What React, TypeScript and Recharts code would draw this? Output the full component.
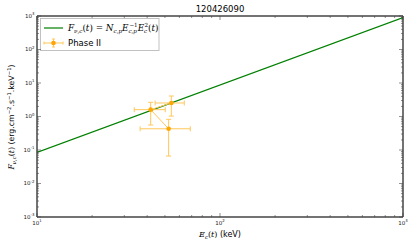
import React from 'react';
import { ComposedChart, XAxis, YAxis, Line, Scatter, ErrorBar, Customized } from 'recharts';

const TITLE = '120426090';
const SERIES_NAME = 'Phase II';

// model line (power law, read at plot edges)
const modelEnergy = [10, 1000];
const modelFlux = [0.085, 900];

// Phase II points
const phaseEnergy = [54.2, 41.8, 52.4];
const phaseEnergyLow = [44.2, 34.0, 36.6];
const phaseEnergyHigh = [63.8, 50.2, 68.8];
const phaseFlux = [2.53, 1.6, 0.43];
const phaseFluxLow = [1.03, 0.557, 0.066];
const phaseFluxHigh = [4.09, 2.65, 0.825];

const xMajorTicks = [10, 100, 1000];
const yMajorTicks = [1e-3, 1e-2, 1e-1, 1, 10, 100, 1000];

const withMinors = (majors: number[]) => {
  const out: number[] = [];
  majors.forEach((m, i) => {
    out.push(m);
    if (i < majors.length - 1) for (let k = 2; k <= 9; k++) out.push(m * k);
  });
  return out;
};
const xTicks = withMinors(xMajorTicks);
const yTicks = withMinors(yMajorTicks);

const modelData = modelEnergy.map((x, i) => ({ x, y: modelFlux[i] }));
const phaseData = phaseEnergy.map((x, i) => ({
  x,
  y: phaseFlux[i],
  xErr: [x - phaseEnergyLow[i], phaseEnergyHigh[i] - x],
  yErr: [phaseFlux[i] - phaseFluxLow[i], phaseFluxHigh[i] - phaseFlux[i]],
}));

const GREEN = '#008000';
const ORANGE = '#FFA500';
const ORANGE_LIGHT = '#FFC75A';
const AXIS = '#444';
const SANS = 'DejaVu Sans';
const SERIF = 'DejaVu Serif';

const isMajor = (v: number) => Math.abs(Math.log10(v) - Math.round(Math.log10(v))) < 1e-9;

const TickMark = (props: any) => {
  const { x, y, payload, side } = props;
  const v = payload.value;
  const major = isMajor(v);
  const len = major ? 4 : 2;
  const exp = Math.round(Math.log10(v));
  const lbl = (tx: number, ty: number, anchor: string) => (
    <text x={tx} y={ty} textAnchor={anchor} fontSize={5.5} fill="#222" fontFamily={SANS}>
      10<tspan dy={-2.6} fontSize={3.9}>{exp}</tspan>
    </text>
  );
  if (side === 'bottom')
    return (
      <g>
        <line x1={x} x2={x} y1={y} y2={y - len} stroke={AXIS} strokeWidth={0.6} />
        {major && lbl(x, y + 8, 'middle')}
      </g>
    );
  if (side === 'top')
    return <line x1={x} x2={x} y1={y} y2={y + len} stroke={AXIS} strokeWidth={0.6} />;
  if (side === 'left')
    return (
      <g>
        <line x1={x} x2={x + len} y1={y} y2={y} stroke={AXIS} strokeWidth={0.6} />
        {major && lbl(x - 2.5, y + 1.8, 'end')}
      </g>
    );
  return <line x1={x} x2={x - len} y1={y} y2={y} stroke={AXIS} strokeWidth={0.6} />;
};

const Decor = () => (
  <g>
    <text x={220} y={12} textAnchor="middle" fontSize={8.5} fontFamily={SANS} fill="#000">
      {TITLE}
    </text>
    {/* x label */}
    <text x={220} y={237} textAnchor="middle" fontSize={8} fontFamily={SANS} fill="#000">
      <tspan fontFamily={SERIF} fontStyle="italic">E</tspan>
      <tspan dy={1.8} fontSize={5.5} fontFamily={SERIF} fontStyle="italic">c</tspan>
      <tspan dy={-1.8} fontFamily={SERIF}>(</tspan>
      <tspan fontFamily={SERIF} fontStyle="italic">t</tspan>
      <tspan fontFamily={SERIF}>)</tspan>
      <tspan> (keV)</tspan>
    </text>
    {/* y label */}
    <text
      x={14}
      y={117}
      transform="rotate(-90, 14, 117)"
      textAnchor="middle"
      fontSize={7.8}
      fontFamily={SANS}
      fill="#000"
    >
      <tspan fontFamily={SERIF} fontStyle="italic">F</tspan>
      <tspan dy={1.8} fontSize={5.3} fontFamily={SERIF} fontStyle="italic">ν,c</tspan>
      <tspan dy={-1.8} fontFamily={SERIF}>(</tspan>
      <tspan fontFamily={SERIF} fontStyle="italic">t</tspan>
      <tspan fontFamily={SERIF}>)</tspan>
      <tspan> (erg.cm</tspan>
      <tspan dy={-3} fontSize={5.3}>−2</tspan>
      <tspan dy={3}>.s</tspan>
      <tspan dy={-3} fontSize={5.3}>−1</tspan>
      <tspan dy={3}>.keV</tspan>
      <tspan dy={-3} fontSize={5.3}>−1</tspan>
      <tspan dy={3}>)</tspan>
    </text>
    {/* legend */}
    <rect x={40.5} y={18.5} width={118.5} height={32} fill="#fff" stroke="#bbb" strokeWidth={0.9} />
    <line x1={44} x2={63} y1={28} y2={28} stroke={GREEN} strokeWidth={1.2} />
    <text x={68} y={31} fontSize={8.8} fontFamily={SERIF} fontStyle="italic" fill="#000">
      <tspan>F</tspan>
      <tspan dy={1.9} fontSize={5.6}>ν,c</tspan>
      <tspan dy={-1.9} fontStyle="normal">(</tspan>
      <tspan>t</tspan>
      <tspan fontStyle="normal">) = </tspan>
      <tspan>N</tspan>
      <tspan dy={1.9} fontSize={5.6}>c,p</tspan>
      <tspan dy={-1.9}>E</tspan>
      <tspan dy={1.9} fontSize={5.6}>c,p</tspan>
      <tspan dx={-7.5} dy={-5.6} fontSize={5.6} fontStyle="normal">−1</tspan>
      <tspan dy={3.7}>E</tspan>
      <tspan dy={1.9} fontSize={5.6}>c</tspan>
      <tspan dx={-2.8} dy={-5.6} fontSize={5.6} fontStyle="normal">2</tspan>
      <tspan dy={3.7} fontStyle="normal">(</tspan>
      <tspan>t</tspan>
      <tspan fontStyle="normal">)</tspan>
    </text>
    <line x1={44} x2={63} y1={43} y2={43} stroke={ORANGE_LIGHT} strokeWidth={1} />
    <line x1={53.5} x2={53.5} y1={39} y2={47} stroke={ORANGE_LIGHT} strokeWidth={1} />
    <line x1={44} x2={44} y1={41.5} y2={44.5} stroke={ORANGE_LIGHT} strokeWidth={1} />
    <line x1={63} x2={63} y1={41.5} y2={44.5} stroke={ORANGE_LIGHT} strokeWidth={1} />
    <line x1={52} x2={55} y1={39} y2={39} stroke={ORANGE_LIGHT} strokeWidth={1} />
    <line x1={52} x2={55} y1={47} y2={47} stroke={ORANGE_LIGHT} strokeWidth={1} />
    <circle cx={53.5} cy={43} r={2.3} fill={ORANGE} />
    <text x={68} y={46} fontSize={8.5} fontFamily={SANS} fill="#000">
      {SERIES_NAME}
    </text>
  </g>
);

export default function App() {
  const axisLine = { stroke: AXIS, strokeWidth: 1.5 };
  return (
    <div style={{ position: 'absolute', left: 0, top: 0, background: '#fff' }}>
      <ComposedChart width={415} height={249} margin={{ top: 15, right: 11, bottom: 0, left: 0 }}>
        <XAxis
          xAxisId="b"
          orientation="bottom"
          dataKey="x"
          type="number"
          scale="log"
          domain={[10, 1000]}
          allowDataOverflow
          ticks={xTicks}
          interval={0}
          tickSize={0}
          tickMargin={0}
          tickLine={false}
          axisLine={axisLine}
          height={32}
          tick={(p: any) => <TickMark {...p} side="bottom" />}
        />
        <XAxis
          xAxisId="t"
          orientation="top"
          dataKey="x"
          type="number"
          scale="log"
          domain={[10, 1000]}
          allowDataOverflow
          ticks={xTicks}
          interval={0}
          tickSize={0}
          tickMargin={0}
          tickLine={false}
          axisLine={axisLine}
          height={1}
          tick={(p: any) => <TickMark {...p} side="top" />}
        />
        <YAxis
          yAxisId="l"
          orientation="left"
          dataKey="y"
          type="number"
          scale="log"
          domain={[1e-3, 1e3]}
          allowDataOverflow
          ticks={yTicks}
          interval={0}
          tickSize={0}
          tickMargin={0}
          tickLine={false}
          axisLine={axisLine}
          width={37}
          tick={(p: any) => <TickMark {...p} side="left" />}
        />
        <YAxis
          yAxisId="r"
          orientation="right"
          dataKey="y"
          type="number"
          scale="log"
          domain={[1e-3, 1e3]}
          allowDataOverflow
          ticks={yTicks}
          interval={0}
          tickSize={0}
          tickMargin={0}
          tickLine={false}
          axisLine={axisLine}
          width={1}
          tick={(p: any) => <TickMark {...p} side="right" />}
        />
        <Line
          xAxisId="b"
          yAxisId="l"
          data={modelData}
          dataKey="y"
          type="linear"
          stroke={GREEN}
          strokeWidth={1.2}
          dot={false}
          isAnimationActive={false}
        />
        <Scatter
          xAxisId="b"
          yAxisId="l"
          data={phaseData}
          dataKey="y"
          line={{ stroke: ORANGE_LIGHT, strokeWidth: 1 }}
          lineType="joint"
          isAnimationActive={false}
          shape={(p: any) => <circle cx={p.cx} cy={p.cy} r={2.3} fill={ORANGE} />}
        >
          <ErrorBar dataKey="xErr" direction="x" stroke={ORANGE_LIGHT} strokeWidth={1} width={2.5} isAnimationActive={false} />
          <ErrorBar dataKey="yErr" direction="y" stroke={ORANGE_LIGHT} strokeWidth={1} width={2.5} isAnimationActive={false} />
        </Scatter>
        <Customized component={<Decor />} />
      </ComposedChart>
    </div>
  );
}
